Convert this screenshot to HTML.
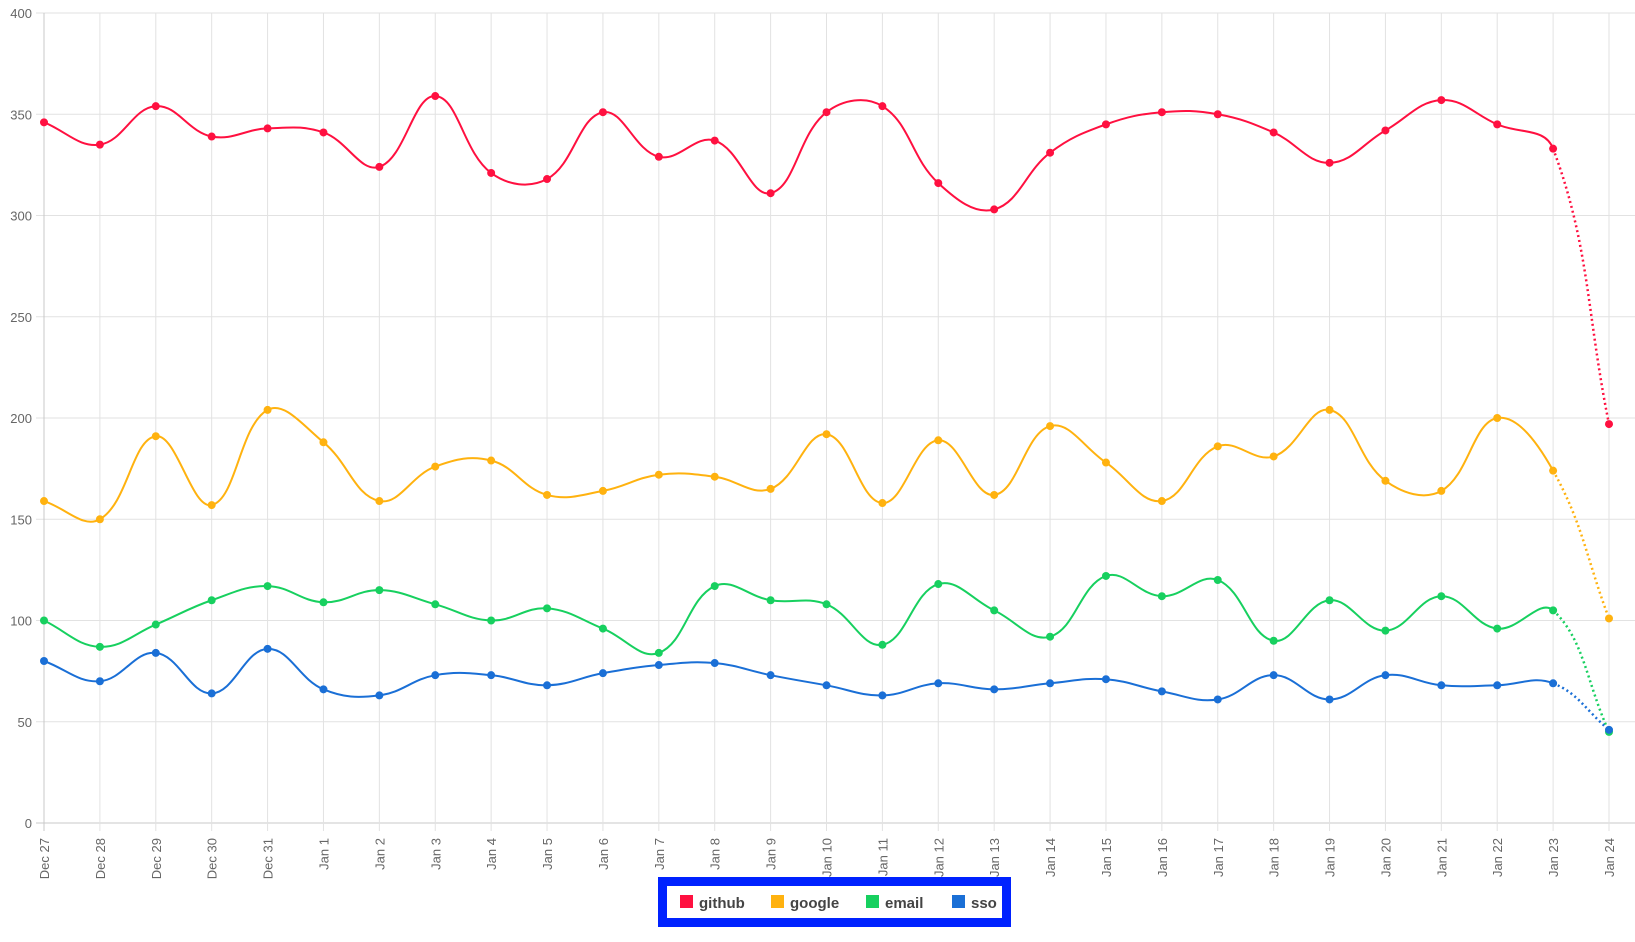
<!DOCTYPE html>
<html><head><meta charset="utf-8"><style>
body{margin:0;background:#fff;width:1635px;height:937px;overflow:hidden;font-family:"Liberation Sans",sans-serif}
svg text{font-family:"Liberation Sans",sans-serif}
</style></head><body>
<svg id="c" width="1635" height="937" xmlns="http://www.w3.org/2000/svg"></svg>
<script>
const svg=document.getElementById('c');
const X0=44,DX=(1609-44)/28,Y0=823,YS=(823-13)/400;
const labels=["Dec 27","Dec 28","Dec 29","Dec 30","Dec 31"];for(let i=1;i<=24;i++)labels.push("Jan "+i);
const series=[
["#ff1040",[346,335,354,339,343,341,324,359,321,318,351,329,337,311,351,354,316,303,331,345,351,350,341,326,342,357,345,333,197]],
["#ffb20f",[159,150,191,157,204,188,159,176,179,162,164,172,171,165,192,158,189,162,196,178,159,186,181,204,169,164,200,174,101]],
["#17d05f",[100,87,98,110,117,109,115,108,100,106,96,84,117,110,108,88,118,105,92,122,112,120,90,110,95,112,96,105,45]],
["#1a6fd6",[80,70,84,64,86,66,63,73,73,68,74,78,79,73,68,63,69,66,69,71,65,61,73,61,73,68,68,69,46]]];
let h='';
for(let v=0;v<=400;v+=50){const y=Y0-v*YS;h+=`<line x1="36" x2="1635" y1="${y}" y2="${y}" stroke="${v?'#e2e2e2':'#c8c8c8'}"/>`;
h+=`<text x="32" y="${y+5}" text-anchor="end" font-size="13" fill="#666">${v}</text>`;}
labels.forEach((l,i)=>{const x=X0+i*DX;h+=`<line x1="${x}" x2="${x}" y1="13" y2="831" stroke="${i?'#e2e2e2':'#c8c8c8'}"/>`;
h+=`<text transform="translate(${x+5},838) rotate(-90)" text-anchor="end" font-size="13" fill="#666">${l}</text>`;});
function pt(i,v){return [X0+i*DX,Y0-v*YS];}
series.forEach(([c,d])=>{
 const p=d.map((v,i)=>pt(i,v));const t=0.4;
 const cps=p.map((q,i)=>{const a=p[i-1]||q,b=p[i+1]||q;
  const d01=Math.hypot(q[0]-a[0],q[1]-a[1]),d12=Math.hypot(b[0]-q[0],b[1]-q[1]);
  const s=d01+d12||1;const fa=t*d01/s,fb=t*d12/s;
  return [[q[0]-fa*(b[0]-a[0]),q[1]-fa*(b[1]-a[1])],[q[0]+fb*(b[0]-a[0]),q[1]+fb*(b[1]-a[1])]];});
 let s=`M${p[0]}`;
 for(let i=1;i<p.length-1;i++)s+=` C${cps[i-1][1]} ${cps[i][0]} ${p[i]}`;
 const n=p.length-1;
 h+=`<path d="${s}" fill="none" stroke="${c}" stroke-width="2"/>`;
 h+=`<path d="M${p[n-1]} C${cps[n-1][1]} ${cps[n][0]} ${p[n]}" fill="none" stroke="${c}" stroke-width="2.5" stroke-dasharray="2 3"/>`;
 p.forEach(q=>h+=`<circle cx="${q[0]}" cy="${q[1]}" r="4" fill="${c}"/>`);
});
h+=`<rect x="662.5" y="881.5" width="344" height="41" fill="#fff" stroke="#0022ff" stroke-width="9"/>`;
[["github",680,"#ff1040"],["google",771,"#ffb20f"],["email",866,"#17d05f"],["sso",952,"#1a6fd6"]].forEach(([n,x,c])=>{
 h+=`<rect x="${x}" y="895" width="13" height="13" fill="${c}"/><text x="${x+19}" y="908" font-size="15" font-weight="bold" fill="#444">${n}</text>`;});
svg.innerHTML=h;
</script>
</body></html>
